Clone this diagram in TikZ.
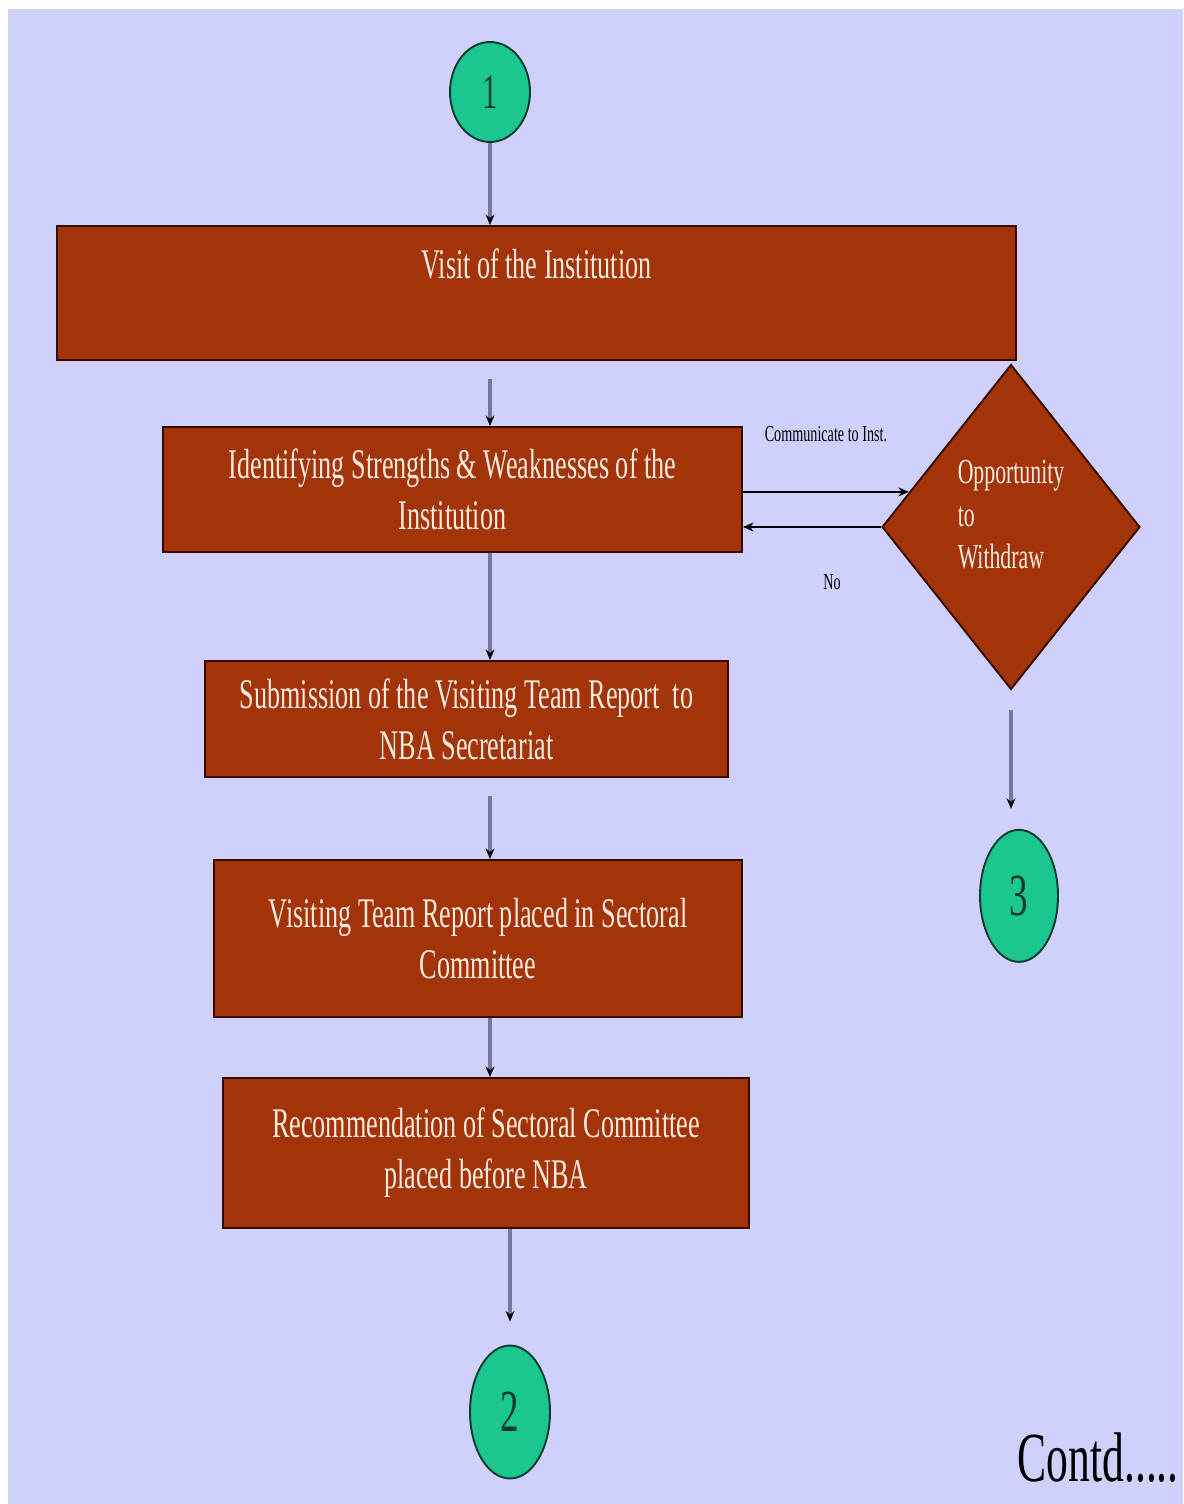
\documentclass[tikz,border=0pt]{standalone}
\usepackage{fontspec}
\setmainfont{Liberation Serif}
\newfontfamily\narrowfont[FakeStretch=0.62]{Liberation Serif}
\usetikzlibrary{shapes.geometric, positioning, arrows.meta}

\definecolor{bgblue}{RGB}{208,208,252}
\definecolor{boxbrown}{RGB}{163,52,10}
\definecolor{boxedge}{RGB}{55,10,0}
\definecolor{boxtext}{RGB}{255,236,225}
\definecolor{turngreen}{RGB}{28,198,145}
\definecolor{turnedge}{RGB}{12,60,45}
\definecolor{linegray}{RGB}{118,118,162}

\begin{document}
\begin{tikzpicture}[x=0.02cm,y=-0.02cm,->,>={Stealth[black,length=6pt,width=5pt]},line width=2pt,draw=linegray]

			\tikzstyle{every node}=[font=\narrowfont]

			\tikzstyle{stage box}=[rectangle,draw=boxedge,line width=1.1pt,fill=boxbrown,text=boxtext,align=center,inner sep=0pt,font=\narrowfont\fontsize{24}{29}\selectfont]
			\tikzstyle{choice}=[diamond,aspect=0.8,draw=boxedge,line width=1.1pt,fill=boxbrown,text=boxtext,align=left,inner sep=0pt,text depth=0.5cm,font=\narrowfont\fontsize{20}{24}\selectfont]
			\tikzstyle{turn}=[ellipse,draw=turnedge,line width=1.1pt,fill=turngreen,text=turnedge,inner sep=0pt,font=\narrowfont\fontsize{34}{40}\selectfont]
			\tikzstyle{side note}=[font=\narrowfont\fontsize{13}{15}\selectfont,text=black,inner sep=1pt]
			\tikzstyle{side arrow}=[draw=black,line width=1.1pt]

			\fill[bgblue,-] (8,9) rectangle (1183,1504);
			\useasboundingbox (0,0) rectangle (1183,1504);

			\node[turn,minimum width=1.6cm,minimum height=2cm,font=\narrowfont\fontsize{28}{32}\selectfont] (T1) at (490,92) {1};
			\node[stage box,minimum width=19.18cm,minimum height=2.68cm,text height=1.04cm,text depth=1.64cm] (Visit) at (536.5,293) {Visit of the Institution};
			\node[stage box,minimum width=11.58cm,minimum height=2.5cm] (Ident) at (452.5,489.5) {Identifying Strengths \& Weaknesses of the\\Institution};
			\node[choice,minimum width=5.16cm,minimum height=6.5cm] (Withdraw) at (1011,527) {Opportunity\\to\\Withdraw};
			\node[stage box,minimum width=10.46cm,minimum height=2.32cm] (Submit) at (466.5,719) {Submission of the Visiting Team Report \ to\\NBA Secretariat};
			\node[stage box,minimum width=10.56cm,minimum height=3.14cm] (Placed) at (478,938.5) {Visiting Team Report placed in Sectoral\\Committee};
			\node[stage box,minimum width=10.52cm,minimum height=3cm] (Recom) at (486,1153) {Recommendation of Sectoral Committee\\placed before NBA};
			\node[turn,minimum width=1.56cm,minimum height=2.64cm] (T3) [below=2.77cm of Withdraw, xshift=0.16cm] {3};
			\node[turn,minimum width=1.6cm,minimum height=2.66cm] (T2) at (510,1412) {2};
			\node[anchor=west,font=\narrowfont\fontsize{40}{44}\selectfont,inner sep=0pt] (Contd) at (1016,1458) {Contd.....};

			\path (T1) edge (T1 |- Visit.north)
			(Visit.south -| T1) edge [shorten <=0.36cm] (Ident.north -| T1)
			(Ident.south -| T1) edge (Submit.north -| T1)
			(Submit.south -| T1) edge [shorten <=0.36cm] (Placed.north -| T1)
			(Placed.south -| T1) edge (Recom.north -| T1)
			(Recom.south -| T2) edge [shorten >=0.46cm] (T2)
			(Withdraw.south) edge [shorten <=0.4cm, shorten >=0.4cm] (Withdraw.south |- T3.north)
			(Ident.east |- Withdraw.161) edge [side arrow] node [side note, above=0.94cm] {Communicate to Inst.} (Withdraw.161)
			(Withdraw.west) edge [side arrow] node [side note, below=0.9cm, xshift=0.4cm] {No} (Withdraw.west -| Ident.east);

		\end{tikzpicture}
\end{document}
